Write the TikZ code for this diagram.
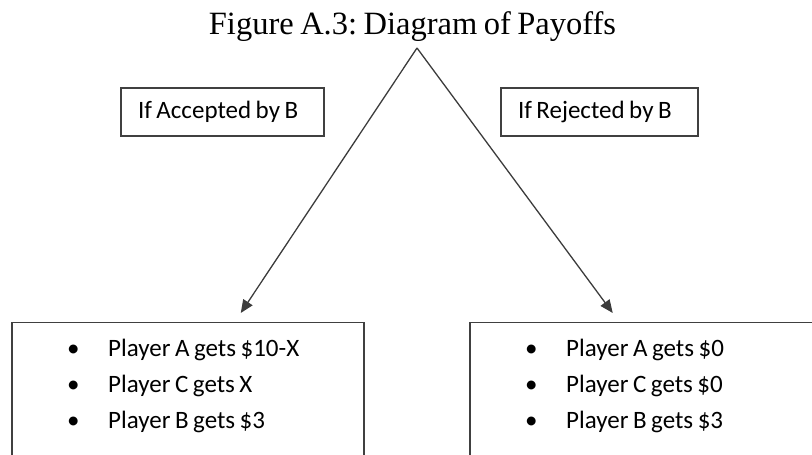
\documentclass[tikz,border=0pt]{standalone}
\usepackage{fontspec}
\setmainfont[WordSpace=0.8]{Liberation Serif}
\newfontfamily\calibri[WordSpace=0.8]{Carlito}
\definecolor{boxgray}{RGB}{64,64,64}
\definecolor{linegray}{RGB}{60,60,60}
\usetikzlibrary{arrows.meta,positioning}
\frenchspacing

\begin{document}
\begin{tikzpicture}[x=1pt,y=1pt,
  casebox/.style={draw=boxgray, line width=1.4pt, minimum height=48pt, inner xsep=17pt, font=\calibri\fontsize{25}{28}\selectfont},
  payoffbox/.style={draw=boxgray, line width=1.5pt, minimum width=352pt, minimum height=160pt, anchor=north west},
  payofftext/.style={anchor=north west, inner sep=0pt, align=left, font=\calibri\fontsize{25}{36}\selectfont},
  branch/.style={draw=linegray, line width=1.3pt, -{Triangle[length=13pt,width=11pt]}}]
  \useasboundingbox (0,0) rectangle (812,455);
  \clip (0,0) rectangle (812,455);

  \node[font=\fontsize{32.5}{36}\selectfont, anchor=base] (title) at (412.5,420) {Figure A.3: Diagram of Payoffs};
  \coordinate (apex) at (417,407);

  \node[casebox] (accCase) at (222.5,343) {\makebox[169pt][l]{If Accepted by B}};
  \node[casebox] (rejCase) at (599.5,343) {\makebox[163pt][l]{If Rejected by B}};

  \node[payoffbox] (accPay) at (11,133) {};
  \node[payoffbox] (rejPay) at (469,133) {};

  \node[payofftext] (accList) at ([xshift=56pt,yshift=-17pt]accPay.north west)
    {\makebox[41pt][l]{\textbullet}Player A gets \$10-X\\
     \makebox[41pt][l]{\textbullet}Player C gets X\\
     \makebox[41pt][l]{\textbullet}Player B gets \$3};
  \node[payofftext] (rejList) at ([xshift=56pt,yshift=-17pt]rejPay.north west)
    {\makebox[41pt][l]{\textbullet}Player A gets \$0\\
     \makebox[41pt][l]{\textbullet}Player C gets \$0\\
     \makebox[41pt][l]{\textbullet}Player B gets \$3};

  \coordinate (accTip) at ([xshift=53pt,yshift=9pt]accPay.north);
  \coordinate (rejTip) at ([xshift=-33pt,yshift=9pt]rejPay.north);
  \draw[branch] (apex) -- (accTip);
  \draw[branch] (apex) -- (rejTip);
\end{tikzpicture}
\end{document}
